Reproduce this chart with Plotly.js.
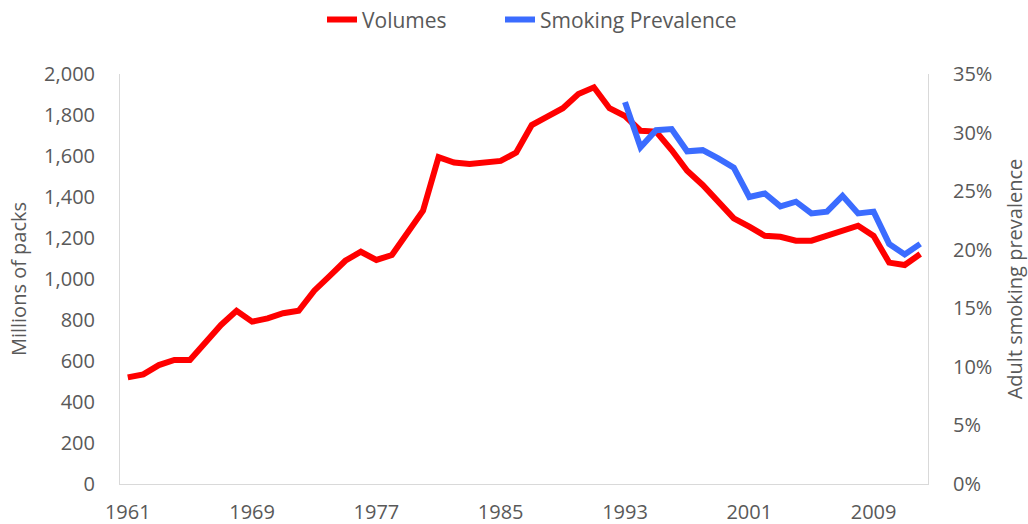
<!DOCTYPE html>
<html>
<head>
<meta charset="utf-8">
<script src="https://cdn.plot.ly/plotly-3.0.1.min.js"></script>
<style>html,body{margin:0;padding:0;background:#fff;}#chart{width:1028px;height:524px;}</style>
</head>
<body>
<div id="chart"></div>
<script>
const years = [1961,1962,1963,1964,1965,1966,1967,1968,1969,1970,1971,1972,1973,1974,1975,1976,1977,1978,1979,1980,
  1981,1982,1983,1984,1985,1986,1987,1988,1989,1990,1991,1992,1993,1994,1995,1996,1997,1998,1999,2000,
  2001,2002,2003,2004,2005,2006,2007,2008,2009,2010,2011,2012];
const volumes = [520,535,580,605,605,689,776,845,792,808,833,845,943,1015,1089,1133,1093,1117,1228,1333,
  1594,1568,1561,1568,1576,1617,1751,1792,1833,1902,1935,1833,1795,1723,1719,1629,1528,1459,1372,1296,
  1255,1211,1206,1187,1187,1211,1236,1260,1210,1080,1068,1122];
const prevYears = [1993,1994,1995,1996,1997,1998,1999,2000,2001,2002,2003,2004,2005,2006,2007,2008,2009,2010,2011,2012];
const prevalence = [0.326,0.2875,0.302,0.303,0.284,0.285,0.278,0.270,0.245,0.248,0.237,0.241,0.231,0.2325,0.246,0.231,0.2325,0.205,0.196,0.205];
const xTicks = [1961,1969,1977,1985,1993,2001,2009];

const font = {family: '"Open Sans", sans-serif', size: 20, color: '#595959'};
const legendFont = Object.assign({}, font, {size: 21});
const traces = [
  {x: years, y: volumes, name: 'Volumes', type: 'scatter', mode: 'lines',
   legend: 'legend', line: {color: '#FF0000', width: 6}},
  {x: prevYears, y: prevalence, name: 'Smoking Prevalence', type: 'scatter', mode: 'lines',
   yaxis: 'y2', legend: 'legend2', line: {color: '#3B6CFF', width: 6}}
];
const legendBase = {orientation: 'h', xref: 'container', xanchor: 'left',
  y: 0.962, yref: 'container', yanchor: 'middle', font: legendFont, bgcolor: 'rgba(0,0,0,0)'};
const layout = {
  width: 1028, height: 524,
  margin: {l: 120, r: 100, t: 74, b: 40, autoexpand: false},
  paper_bgcolor: '#fff', plot_bgcolor: '#fff',
  font: font,
  showlegend: true,
  hovermode: false,
  legend: Object.assign({}, legendBase, {x: 322 / 1028}),
  legend2: Object.assign({}, legendBase, {x: 500 / 1028}),
  xaxis: {range: [1960.5, 2012.5], tickvals: xTicks, ticktext: xTicks.map(String),
          showgrid: false, zeroline: false, showline: true, linecolor: '#d9d9d9', linewidth: 1,
          ticks: 'outside', ticklen: 10, tickcolor: 'rgba(0,0,0,0)', tickfont: font},
  yaxis: {range: [0, 2000], dtick: 200, tickformat: ',d', showgrid: false, zeroline: false,
          showline: true, linecolor: '#d9d9d9', linewidth: 1,
          ticks: 'outside', ticklen: 20, tickcolor: 'rgba(0,0,0,0)', tickfont: font,
          title: {text: 'Millions of packs', font: font, standoff: 12}},
  yaxis2: {range: [0, 0.35], dtick: 0.05, tickformat: '.0%', overlaying: 'y', side: 'right',
           showgrid: false, zeroline: false, showline: true, linecolor: '#d9d9d9', linewidth: 1,
           ticks: 'outside', ticklen: 20, tickcolor: 'rgba(0,0,0,0)', tickfont: font,
           title: {text: 'Adult smoking prevalence', font: font, standoff: 20}}
};
Plotly.newPlot('chart', traces, layout, {displayModeBar: false, staticPlot: true});
</script>
</body>
</html>
